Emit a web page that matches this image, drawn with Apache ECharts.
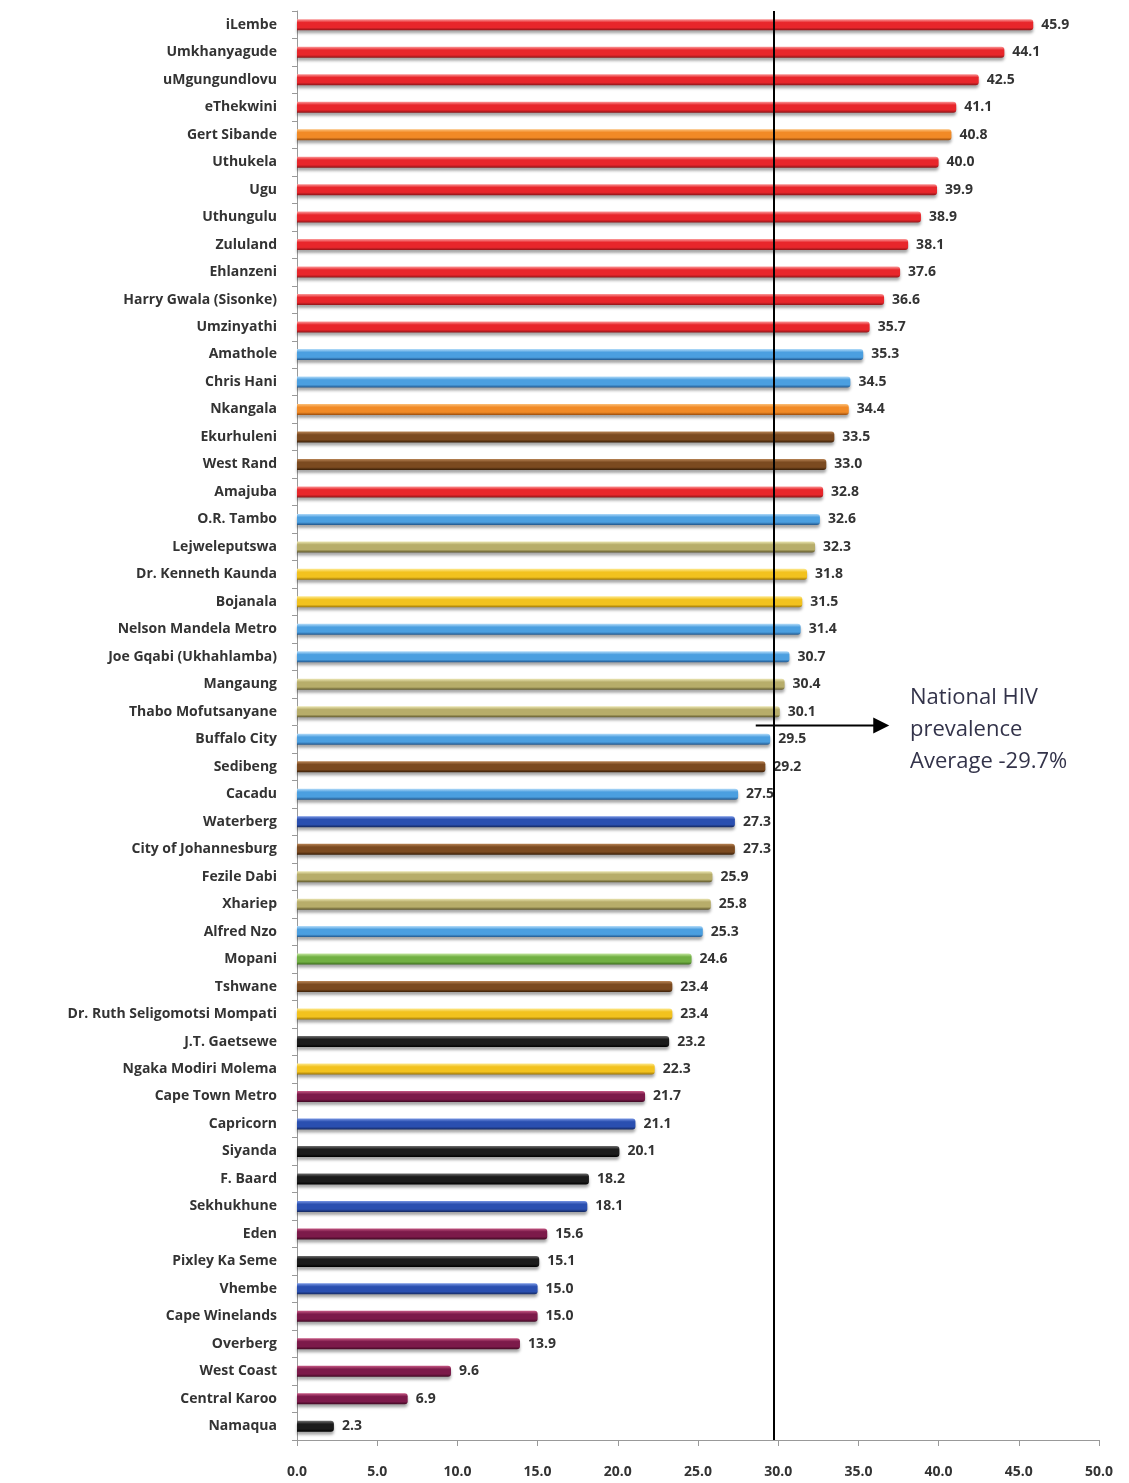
<!doctype html>
<html>
<head>
<meta charset="UTF-8">
<title>HIV prevalence by district</title>
<script src="https://cdn.jsdelivr.net/npm/echarts@6/dist/echarts.min.js"></script>
<style>
  html, body { margin: 0; padding: 0; background: #fff; }
  #main { width: 1129px; height: 1483px; }
</style>
</head>
<body>
<div id="main"></div>
<script>
// districts, top to bottom as in the picture
var districts = ['iLembe', 'Umkhanyagude', 'uMgungundlovu', 'eThekwini', 'Gert Sibande', 'Uthukela', 'Ugu',
  'Uthungulu', 'Zululand', 'Ehlanzeni', 'Harry Gwala (Sisonke)', 'Umzinyathi', 'Amathole', 'Chris Hani',
  'Nkangala', 'Ekurhuleni', 'West Rand', 'Amajuba', 'O.R. Tambo', 'Lejweleputswa', 'Dr. Kenneth Kaunda',
  'Bojanala', 'Nelson Mandela Metro', 'Joe Gqabi (Ukhahlamba)', 'Mangaung', 'Thabo Mofutsanyane',
  'Buffalo City', 'Sedibeng', 'Cacadu', 'Waterberg', 'City of Johannesburg', 'Fezile Dabi', 'Xhariep',
  'Alfred Nzo', 'Mopani', 'Tshwane', 'Dr. Ruth Seligomotsi Mompati', 'J.T. Gaetsewe', 'Ngaka Modiri Molema',
  'Cape Town Metro', 'Capricorn', 'Siyanda', 'F. Baard', 'Sekhukhune', 'Eden', 'Pixley Ka Seme', 'Vhembe',
  'Cape Winelands', 'Overberg', 'West Coast', 'Central Karoo', 'Namaqua'];

var prevalence = [45.9, 44.1, 42.5, 41.1, 40.8, 40.0, 39.9, 38.9, 38.1, 37.6, 36.6, 35.7, 35.3, 34.5,
  34.4, 33.5, 33.0, 32.8, 32.6, 32.3, 31.8, 31.5, 31.4, 30.7, 30.4, 30.1, 29.5, 29.2, 27.5, 27.3, 27.3,
  25.9, 25.8, 25.3, 24.6, 23.4, 23.4, 23.2, 22.3, 21.7, 21.1, 20.1, 18.2, 18.1, 15.6, 15.1, 15.0, 15.0,
  13.9, 9.6, 6.9, 2.3];

// colour group of each bar as drawn in the picture
var colourGroup = ['red', 'red', 'red', 'red', 'orange', 'red', 'red', 'red', 'red', 'red', 'red', 'red',
  'sky', 'sky', 'orange', 'brown', 'brown', 'red', 'sky', 'khaki', 'yellow', 'yellow', 'sky', 'sky',
  'khaki', 'khaki', 'sky', 'brown', 'sky', 'navy', 'brown', 'khaki', 'khaki', 'sky', 'green', 'brown',
  'yellow', 'black', 'yellow', 'maroon', 'navy', 'black', 'black', 'navy', 'maroon', 'black', 'navy',
  'maroon', 'maroon', 'maroon', 'maroon', 'black'];

var nationalAverage = 29.7;
var xTicks = [0, 5, 10, 15, 20, 25, 30, 35, 40, 45, 50];

// light top / base / dark bottom for a tube look
var palette = {
  red:    ['#fb9a9a', '#e8262b', '#8e1518'],
  orange: ['#fbc07a', '#f18a26', '#9a4d0d'],
  sky:    ['#b4dcf9', '#4b9fe0', '#21568c'],
  brown:  ['#b98556', '#7b4a20', '#3a1f08'],
  khaki:  ['#ece7b4', '#b7ad6a', '#5f582c'],
  yellow: ['#fde98f', '#f2c21e', '#9a7306'],
  navy:   ['#7896e4', '#2a4fb0', '#142860'],
  green:  ['#c4e6a0', '#71b043', '#3b6b1c'],
  black:  ['#707070', '#1b1b1b', '#000000'],
  maroon: ['#c65884', '#7c1a4a', '#3f0822']
};

function tube(key) {
  var c = palette[key];
  return new echarts.graphic.LinearGradient(0, 0, 0, 1, [
    { offset: 0, color: c[0] },
    { offset: 0.3, color: c[1] },
    { offset: 0.75, color: c[1] },
    { offset: 1, color: c[2] }
  ]);
}

var labelFont = '"Open Sans", "DejaVu Sans", sans-serif';

var chart = echarts.init(document.getElementById('main'));
chart.setOption({
  animation: false,
  backgroundColor: '#fff',
  grid: { left: 297, right: 30, top: 11, bottom: 43, containLabel: false },
  xAxis: {
    type: 'value',
    min: 0,
    max: 50,
    interval: 5,
    axisLine: { show: true, lineStyle: { color: '#999', width: 1 } },
    axisTick: { show: true, length: 6, lineStyle: { color: '#999' } },
    splitLine: { show: false },
    axisLabel: {
      margin: 25,
      color: '#333',
      fontFamily: labelFont,
      fontWeight: 'bold',
      fontSize: 14,
      formatter: function (v) { return xTicks.indexOf(v) >= 0 ? v.toFixed(1) : ''; }
    }
  },
  yAxis: {
    type: 'category',
    inverse: true,
    data: districts,
    axisLine: { show: true, lineStyle: { color: '#999', width: 1 } },
    axisTick: { show: true, length: 5, lineStyle: { color: '#999' } },
    axisLabel: {
      margin: 20,
      color: '#333',
      fontFamily: labelFont,
      fontWeight: 'bold',
      fontSize: 14
    }
  },
  series: [{
    type: 'bar',
    barWidth: 11,
    data: prevalence.map(function (v, i) {
      return {
        value: v,
        itemStyle: {
          color: tube(colourGroup[i]),
          borderRadius: [0, 3, 3, 0],
          shadowColor: 'rgba(0,0,0,0.35)',
          shadowBlur: 3,
          shadowOffsetY: 3
        }
      };
    }),
    label: {
      show: true,
      position: 'right',
      distance: 8,
      color: '#333',
      fontFamily: labelFont,
      fontWeight: 'bold',
      fontSize: 14,
      formatter: function (p) { return p.value.toFixed(1); }
    },
    markLine: {
      silent: true,
      symbol: ['none', 'none'],
      label: { show: false },
      lineStyle: { color: '#000', width: 2, type: 'solid' },
      data: [{ xAxis: nationalAverage }]
    }
  }]
});

// arrow pointing from the average line to the note, between two rows
var yA = chart.convertToPixel({ yAxisIndex: 0 }, 'Thabo Mofutsanyane');
var yB = chart.convertToPixel({ yAxisIndex: 0 }, 'Buffalo City');
var arrowY = (yA + yB) / 2;
var x0 = chart.convertToPixel({ xAxisIndex: 0 }, 28.6);
var x1 = chart.convertToPixel({ xAxisIndex: 0 }, 36.8);

chart.setOption({
  graphic: [
    {
      type: 'line',
      shape: { x1: x0, y1: arrowY, x2: x1 - 12, y2: arrowY },
      style: { stroke: '#000', lineWidth: 2 }
    },
    {
      type: 'polygon',
      shape: { points: [[x1 - 14, arrowY - 8], [x1 + 2, arrowY], [x1 - 14, arrowY + 8]] },
      style: { fill: '#000' }
    },
    {
      type: 'text',
      left: 910,
      top: 682,
      style: {
        text: 'National HIV\nprevalence\nAverage -29.7%',
        fill: '#33334a',
        font: '22px "Open Sans", sans-serif',
        lineHeight: 32
      }
    }
  ]
});
</script>
</body>
</html>
